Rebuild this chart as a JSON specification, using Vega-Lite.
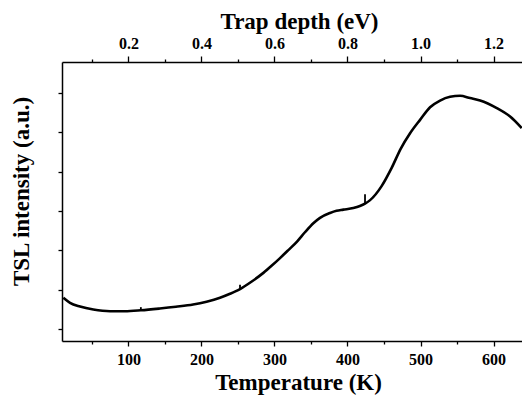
{
  "$schema": "https://vega.github.io/schema/vega-lite/v6.json",
  "width": 460,
  "height": 279,
  "autosize": {"type": "none"},
  "padding": {"left": 62, "top": 62, "right": 0, "bottom": 57},
  "background": "white",
  "config": {
    "view": {"stroke": null},
    "axis": {
      "domainColor": "black",
      "domainWidth": 1.5,
      "tickColor": "black",
      "tickWidth": 1.3,
      "grid": false,
      "labelFont": "Liberation Serif",
      "labelFontWeight": "bold",
      "labelFontSize": 16,
      "labelColor": "black",
      "titleFont": "Liberation Serif",
      "titleFontWeight": "bold",
      "titleFontSize": 23,
      "titleColor": "black"
    }
  },
  "datasets": {
    "tsl": [
      {"T": 10.8, "I": 0.297},
      {"T": 20, "I": 0.17},
      {"T": 33.7, "I": 0.076},
      {"T": 51.9, "I": 0.0},
      {"T": 74.8, "I": -0.043},
      {"T": 95, "I": -0.043},
      {"T": 117, "I": -0.02},
      {"T": 143, "I": 0.025},
      {"T": 165, "I": 0.07},
      {"T": 188.5, "I": 0.127},
      {"T": 207, "I": 0.2},
      {"T": 225.4, "I": 0.3},
      {"T": 239.1, "I": 0.4},
      {"T": 252.8, "I": 0.52},
      {"T": 267.9, "I": 0.7},
      {"T": 284.8, "I": 0.931},
      {"T": 296, "I": 1.11},
      {"T": 307.6, "I": 1.307},
      {"T": 319, "I": 1.51},
      {"T": 330.9, "I": 1.726},
      {"T": 342, "I": 1.97},
      {"T": 353.6, "I": 2.2},
      {"T": 362.4, "I": 2.33},
      {"T": 376.1, "I": 2.454},
      {"T": 385, "I": 2.51},
      {"T": 394.3, "I": 2.538},
      {"T": 408, "I": 2.58},
      {"T": 417, "I": 2.63},
      {"T": 424, "I": 2.69},
      {"T": 431, "I": 2.78},
      {"T": 446.5, "I": 3.13},
      {"T": 460.5, "I": 3.6},
      {"T": 473, "I": 4.09},
      {"T": 485.7, "I": 4.48},
      {"T": 499.4, "I": 4.82},
      {"T": 513.1, "I": 5.14},
      {"T": 526.8, "I": 5.31},
      {"T": 540.5, "I": 5.405},
      {"T": 554.2, "I": 5.431},
      {"T": 567.9, "I": 5.373},
      {"T": 581.6, "I": 5.312},
      {"T": 604.5, "I": 5.119},
      {"T": 622.7, "I": 4.906},
      {"T": 638.7, "I": 4.611}
    ],
    "glitch": [
      {"T": 117, "I1": -0.02, "I2": 0.06},
      {"T": 252.8, "I1": 0.52, "I2": 0.63},
      {"T": 424, "I1": 2.69, "I2": 2.93}
    ],
    "ev": [
      {"E": 0.018},
      {"E": 1.278}
    ]
  },
  "layer": [
    {
      "layer": [
        {
          "data": {"name": "tsl"},
          "mark": {"type": "line", "color": "black", "strokeWidth": 2.6, "interpolate": "monotone", "clip": true},
          "encoding": {
            "x": {
              "field": "T", "type": "quantitative",
              "scale": {"domain": [9, 639], "nice": false, "zero": false},
              "axis": {
                "orient": "bottom",
                "title": "Temperature (K)",
                "titleX": 236,
                "titlePadding": 4,
                "values": [50, 100, 150, 200, 250, 300, 350, 400, 450, 500, 550, 600],
                "labelExpr": "datum.value % 100 === 0 ? datum.label : ''",
                "tickSize": {"condition": {"test": "datum.value % 100 === 0", "value": 5}, "value": 3},
                "labelPadding": 5,
                "labelFlush": false,
                "labelOverlap": false
              }
            },
            "y": {
              "field": "I", "type": "quantitative",
              "scale": {"domain": [-0.8, 6.29], "nice": false, "zero": false},
              "axis": {
                "orient": "left",
                "title": "TSL intensity (a.u.)",
                "titleY": 129,
                "values": [-0.5, 0, 0.5, 1, 1.5, 2, 2.5, 3, 3.5, 4, 4.5, 5, 5.5, 6],
                "labels": false,
                "tickSize": {"condition": {"test": "datum.value % 1 === 0", "value": 5}, "value": 4},
                "titlePadding": 24
              }
            }
          }
        },
        {
          "data": {"name": "glitch"},
          "mark": {"type": "rule", "color": "black", "strokeWidth": 1.8},
          "encoding": {
            "x": {"field": "T", "type": "quantitative"},
            "y": {"field": "I1", "type": "quantitative"},
            "y2": {"field": "I2"}
          }
        }
      ]
    },
    {
      "data": {"name": "ev"},
      "mark": {"type": "point", "opacity": 0},
      "encoding": {
        "x": {
          "field": "E", "type": "quantitative",
          "scale": {"domain": [0.018, 1.278], "nice": false, "zero": false},
          "axis": {
            "orient": "top",
            "title": "Trap depth (eV)",
            "titleX": 237,
            "titlePadding": 2,
            "values": [0.1, 0.2, 0.3, 0.4, 0.5, 0.6, 0.7, 0.8, 0.9, 1.0, 1.1, 1.2],
            "labelExpr": "round(datum.value * 10) % 2 === 0 ? format(datum.value, '.1f') : ''",
            "tickSize": {"condition": {"test": "round(datum.value * 10) % 2 === 0", "value": 6}, "value": 3},
            "labelPadding": 5,
            "labelFlush": false,
            "labelOverlap": false
          }
        }
      }
    }
  ],
  "resolve": {"scale": {"x": "independent"}}
}
